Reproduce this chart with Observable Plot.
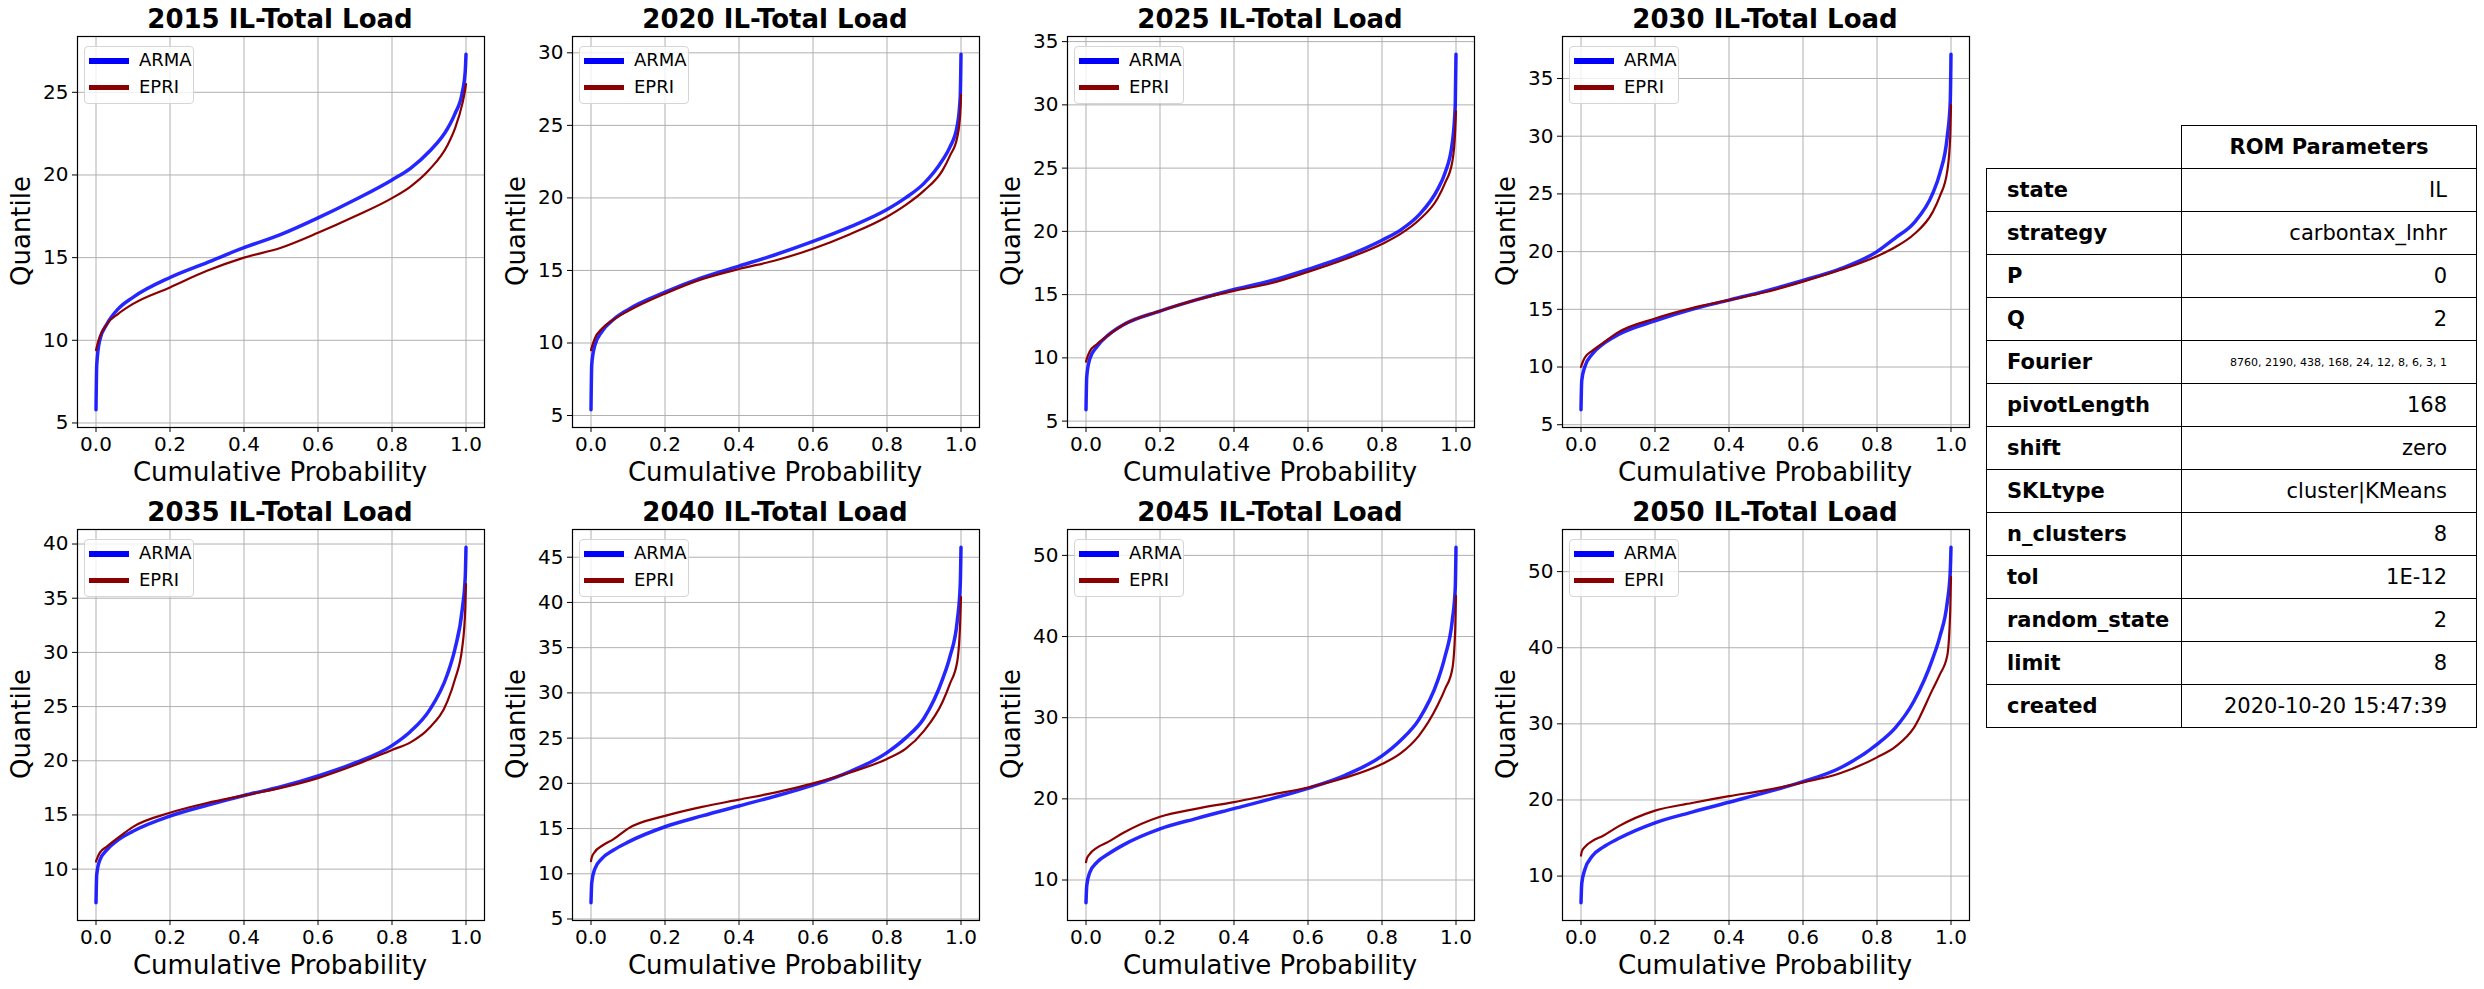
<!DOCTYPE html>
<html>
<head>
<meta charset="utf-8">
<script src="https://cdn.jsdelivr.net/npm/d3@7"></script>
<script src="https://cdn.jsdelivr.net/npm/@observablehq/plot@0.6"></script>
<style>
  body { margin: 0; background: #fff; font-family: "DejaVu Sans", sans-serif; }
  #page { position: relative; width: 2484px; height: 989px; }
  .panel { position: absolute; }
  .ttl { position: absolute; font-weight: bold; font-size: 26px; white-space: nowrap; transform: translate(-50%, -50%); }
  .xl { position: absolute; font-size: 26px; white-space: nowrap; transform: translate(-50%, -50%); }
  .yl { position: absolute; font-size: 26px; white-space: nowrap; transform: translate(-50%, -50%) rotate(-90deg); }
  .leg { position: absolute; border: 1px solid #d5d5d5; border-radius: 4px; background: rgba(255,255,255,0.8); width: 108px; height: 56px; }
  .leg div { position: absolute; left: 4px; width: 40px; height: 6px; }
  .leg span { position: absolute; left: 54px; font-size: 18px; }
  table { position: absolute; left: 1986px; top: 125px; border-collapse: collapse; font-size: 21px; }
  td { border: 1.5px solid #000; height: 42px; padding: 0; }
  td.k { width: 174px; padding-left: 20px; font-weight: bold; }
  td.v { width: 265px; padding-right: 29px; text-align: right; }
  td.h { text-align: center; font-weight: bold; width: 294px; }
</style>
</head>
<body>
<div id="page"></div>
<script>
const years = [2015, 2020, 2025, 2030, 2035, 2040, 2045, 2050];
const probs = [0, 0.002, 0.01, 0.03, 0.06, 0.1, 0.2, 0.3, 0.4, 0.5, 0.6, 0.7, 0.8, 0.85, 0.9, 0.95, 0.97, 0.99, 0.998, 1];

const arma = [
  [5.8, 8.5, 10.0, 11.0, 11.9, 12.6, 13.8, 14.7, 15.6, 16.4, 17.4, 18.5, 19.7, 20.4, 21.4, 22.8, 23.7, 25.0, 26.3, 27.3],
  [5.4, 8.5, 9.8, 10.8, 11.6, 12.3, 13.5, 14.5, 15.3, 16.1, 17.0, 18.0, 19.2, 20.0, 21.0, 22.6, 23.5, 25.0, 27.0, 29.9],
  [5.9, 8.5, 9.9, 10.9, 11.8, 12.6, 13.7, 14.6, 15.4, 16.1, 17.0, 18.0, 19.3, 20.1, 21.3, 23.3, 24.6, 27.0, 30.0, 34.0],
  [6.3, 8.8, 10.0, 11.1, 12.0, 12.8, 14.0, 15.0, 15.8, 16.6, 17.5, 18.5, 20.0, 21.2, 22.5, 25.0, 26.8, 30.0, 33.0, 37.1],
  [6.9, 9.5, 10.8, 11.8, 12.7, 13.5, 14.9, 15.9, 16.8, 17.6, 18.6, 19.8, 21.4, 22.7, 24.6, 28.0, 30.3, 34.0, 37.0, 39.7],
  [6.8, 9.0, 10.5, 11.7, 12.6, 13.5, 15.2, 16.4, 17.5, 18.6, 19.8, 21.3, 23.4, 25.0, 27.2, 31.5, 34.0, 38.0, 42.0, 46.1],
  [7.2, 9.3, 10.9, 12.2, 13.2, 14.3, 16.3, 17.6, 18.8, 20.0, 21.3, 22.9, 25.3, 27.2, 29.8, 34.5, 37.5, 42.0, 46.0, 51.0],
  [6.5, 9.0, 10.8, 12.6, 13.8, 14.9, 17.0, 18.4, 19.7, 21.0, 22.4, 24.2, 27.3, 29.5, 33.0, 38.5, 41.5, 46.0, 50.0, 53.2]
];
const epri = [
  [9.4, 9.6, 10.2, 11.0, 11.6, 12.2, 13.2, 14.2, 15.0, 15.6, 16.5, 17.5, 18.6, 19.3, 20.3, 21.8, 22.8, 24.3, 25.2, 25.5],
  [9.5, 9.7, 10.3, 11.0, 11.6, 12.2, 13.4, 14.4, 15.1, 15.7, 16.5, 17.5, 18.7, 19.5, 20.5, 21.9, 22.9, 24.2, 25.8, 27.1],
  [9.7, 9.9, 10.5, 11.1, 11.8, 12.6, 13.7, 14.6, 15.3, 15.9, 16.8, 17.8, 19.0, 19.8, 20.9, 22.6, 23.8, 25.5, 28.0, 29.5],
  [10.0, 10.2, 10.8, 11.4, 12.1, 13.0, 14.2, 15.1, 15.8, 16.5, 17.4, 18.4, 19.6, 20.4, 21.5, 23.4, 24.8, 27.0, 30.0, 32.7],
  [10.7, 10.9, 11.5, 12.1, 12.9, 13.9, 15.2, 16.1, 16.8, 17.5, 18.4, 19.6, 21.0, 21.7, 23.0, 25.5, 27.5, 30.5, 34.0, 36.3],
  [11.4, 11.8, 12.4, 13.1, 13.8, 15.0, 16.4, 17.4, 18.2, 19.0, 20.0, 21.2, 22.7, 23.8, 25.8, 29.0, 31.0, 33.5, 38.0, 40.6],
  [12.2, 12.6, 13.2, 14.0, 14.7, 15.8, 17.8, 18.8, 19.6, 20.5, 21.4, 22.6, 24.3, 25.6, 27.8, 31.5, 33.5, 36.0, 41.0, 45.0],
  [12.7, 13.2, 13.8, 14.6, 15.3, 16.5, 18.6, 19.6, 20.5, 21.3, 22.3, 23.5, 25.6, 27.0, 29.5, 34.5, 36.5, 39.0, 45.0, 49.3]
];
const tickStep = [5, 5, 5, 5, 5, 5, 10, 10];

const paramNames = ["state", "strategy", "P", "Q", "Fourier", "pivotLength", "shift", "SKLtype", "n_clusters", "tol", "random_state", "limit", "created"];
const paramValues = ["IL", "carbontax_lnhr", "0", "2", "8760, 2190, 438, 168, 24, 12, 8, 6, 3, 1", "168", "zero", "cluster|KMeans", "8", "1E-12", "2", "8", "2020-10-20 15:47:39"];

const page = document.getElementById("page");

years.forEach((yr, i) => {
  const col = i % 4, row = Math.floor(i / 4);
  const left = col * 495, top = row * 493;
  const a = probs.map((p, j) => ({p, q: arma[i][j]}));
  const e = probs.map((p, j) => ({p, q: epri[i][j]}));
  const lo = d3.min(arma[i].concat(epri[i])), hi = d3.max(arma[i].concat(epri[i]));
  const pad = (hi - lo) * 0.05;
  const step = tickStep[i];
  const yt = d3.range(Math.ceil((lo - pad) / step) * step, hi + pad, step);

  const chart = Plot.plot({
    width: 495, height: 491,
    marginLeft: 77, marginRight: 11, marginTop: 36, marginBottom: 64,
    style: {fontFamily: "DejaVu Sans", fontSize: "20px", color: "#000", background: "transparent"},
    x: {domain: [-0.05, 1.05]},
    y: {domain: [lo - pad, hi + pad]},
    marks: [
      Plot.gridX([0, 0.2, 0.4, 0.6, 0.8, 1], {stroke: "#b0b0b0", strokeOpacity: 1}),
      Plot.gridY(yt, {stroke: "#b0b0b0", strokeOpacity: 1}),
      Plot.axisX([0, 0.2, 0.4, 0.6, 0.8, 1], {tickFormat: d3.format(".1f"), tickSize: 5, tickPadding: 4, label: null, fontSize: 20}),
      Plot.axisY(yt, {tickSize: 5, tickPadding: 4, label: null, fontSize: 20}),
      Plot.line(a, {x: "p", y: "q", stroke: "#0000ff", strokeWidth: 3.5, strokeOpacity: 0.85, curve: "monotone-x"}),
      Plot.line(e, {x: "p", y: "q", stroke: "#8b0000", strokeWidth: 2.2, curve: "monotone-x"}),
      Plot.frame({stroke: "#000", strokeWidth: 1.2})
    ]
  });
  const box = document.createElement("div");
  box.className = "panel";
  box.style.left = left + "px";
  box.style.top = top + "px";
  box.appendChild(chart);
  page.appendChild(box);

  const add = (cls, txt, x, y) => {
    const d = document.createElement("div");
    d.className = cls; d.textContent = txt;
    d.style.left = x + "px"; d.style.top = y + "px";
    page.appendChild(d);
  };
  add("ttl", `${yr} IL-Total Load`, left + 280, top + 19);
  add("xl", "Cumulative Probability", left + 280, top + 472);
  add("yl", "Quantile", left + 21, top + 231);

  const leg = document.createElement("div");
  leg.className = "leg";
  leg.style.left = (left + 84) + "px";
  leg.style.top = (top + 46) + "px";
  leg.innerHTML = `<div style="top:11px;background:#0000ff"></div><span style="top:2px">ARMA</span>` +
                  `<div style="top:38px;height:5px;background:#8b0000"></div><span style="top:29px">EPRI</span>`;
  page.appendChild(leg);
});

const tbl = document.createElement("table");
let html = `<tr><td style="border:none"></td><td class="h">ROM Parameters</td></tr>`;
paramNames.forEach((k, j) => {
  const small = k === "Fourier" ? ' style="font-size:11px"' : "";
  html += `<tr><td class="k">${k}</td><td class="v"${small}>${paramValues[j]}</td></tr>`;
});
tbl.innerHTML = html;
page.appendChild(tbl);
</script>
</body>
</html>
